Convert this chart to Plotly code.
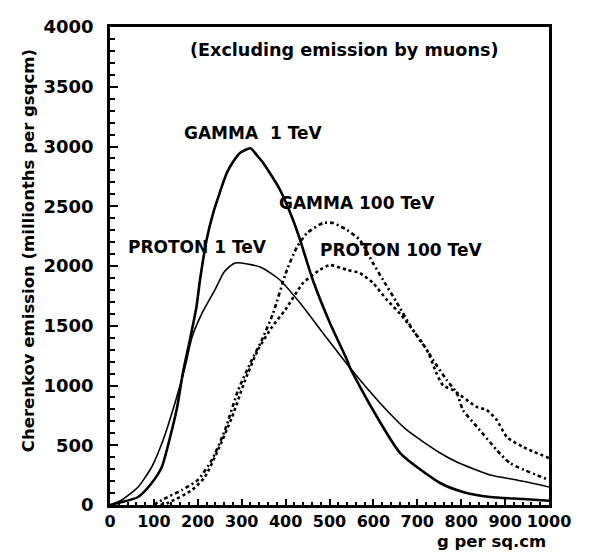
import plotly.graph_objects as go

# Depth (g per sq.cm) and Cherenkov emission (millionths per gsqcm)
gamma1_x = [0, 18, 64, 95, 118, 137, 153, 166, 182, 197, 205, 220, 235, 266, 280, 296, 320, 334, 349, 387, 417, 433, 462, 501, 540, 547, 599, 661, 752, 804, 866, 941, 1000]
gamma1_y = [0, 17, 67, 184, 318, 569, 820, 1105, 1381, 1659, 1883, 2218, 2443, 2778, 2870, 2946, 2985, 2929, 2862, 2640, 2385, 2218, 1883, 1523, 1213, 1146, 795, 435, 184, 109, 67, 50, 35]

proton1_x = [0, 27, 64, 95, 121, 148, 171, 187, 210, 239, 260, 285, 342, 387, 433, 485, 547, 615, 676, 752, 790, 866, 927, 1000]
proton1_y = [0, 42, 151, 318, 544, 854, 1155, 1406, 1607, 1800, 1950, 2025, 1992, 1883, 1690, 1439, 1146, 854, 628, 435, 360, 251, 209, 151]

gamma100_x = [100, 118, 164, 200, 232, 262, 292, 323, 346, 371, 403, 426, 449, 486, 508, 540, 569, 599, 622, 654, 690, 722, 736, 767, 790, 804, 836, 881, 911, 1000]
gamma100_y = [0, 42, 126, 209, 377, 628, 962, 1213, 1381, 1600, 1967, 2159, 2276, 2360, 2360, 2301, 2218, 2025, 1883, 1690, 1464, 1297, 1213, 1046, 937, 795, 653, 460, 351, 209]

proton100_x = [115, 132, 187, 216, 246, 278, 308, 337, 369, 399, 440, 478, 501, 540, 569, 599, 631, 661, 690, 722, 744, 759, 781, 836, 858, 881, 904, 941, 1000]
proton100_y = [0, 17, 126, 234, 460, 736, 1046, 1297, 1490, 1632, 1858, 1967, 2008, 1967, 1941, 1858, 1715, 1600, 1464, 1297, 1100, 1000, 962, 820, 795, 711, 569, 485, 393]

x_ticks = [0, 100, 200, 300, 400, 500, 600, 700, 800, 900, 1000]
y_ticks = [0, 500, 1000, 1500, 2000, 2500, 3000, 3500, 4000]

labels = ["(Excluding emission by muons)", "GAMMA  1 TeV", "GAMMA 100 TeV", "PROTON 1 TeV", "PROTON 100 TeV"]
label_x = [532, 328, 562, 199, 663]
label_y = [3808, 3113, 2527, 2159, 2134]
label_size = [17.6, 17, 17, 17, 17]

FONT = "DejaVu Sans"

fig = go.Figure()
fig.add_trace(go.Scatter(x=gamma1_x, y=gamma1_y, mode="lines", name="GAMMA 1 TeV",
                         line=dict(color="black", width=2.6, shape="spline", smoothing=0.6)))
fig.add_trace(go.Scatter(x=proton1_x, y=proton1_y, mode="lines", name="PROTON 1 TeV",
                         line=dict(color="black", width=1.6, shape="spline", smoothing=0.6)))
fig.add_trace(go.Scatter(x=gamma100_x, y=gamma100_y, mode="lines", name="GAMMA 100 TeV",
                         line=dict(color="black", width=2.6, dash="4px,3px,2px,3px", shape="spline", smoothing=0.6)))
fig.add_trace(go.Scatter(x=proton100_x, y=proton100_y, mode="lines", name="PROTON 100 TeV",
                         line=dict(color="black", width=2.6, dash="3px,3px", shape="spline", smoothing=0.6)))

for t, ax, ay, s in zip(labels, label_x, label_y, label_size):
    fig.add_annotation(x=ax, y=ay, text=t, showarrow=False, xanchor="center", yanchor="middle",
                       font=dict(family=FONT, size=s, color="black", weight="bold"))

fig.add_annotation(xref="paper", yref="paper", x=-0.187, y=0.533, text="Cherenkov emission (millionths per gsqcm)",
                   textangle=-90, showarrow=False, xanchor="center", yanchor="middle",
                   font=dict(family=FONT, size=16.5, color="black", weight="bold"))
fig.add_annotation(xref="paper", yref="paper", x=0.868, y=-0.076, text="g per sq.cm",
                   showarrow=False, xanchor="center", yanchor="middle",
                   font=dict(family=FONT, size=16.5, color="black", weight="bold"))

fig.update_layout(
    width=589, height=560,
    margin=dict(l=110, r=40, t=27, b=55),
    paper_bgcolor="white", plot_bgcolor="white",
    showlegend=False,
)
fig.update_xaxes(range=[0, 1000], tickvals=x_ticks, ticktext=[str(v) for v in x_ticks], tickangle=0,
                 showgrid=False, zeroline=False, showline=True, linecolor="black", linewidth=2.5, mirror=True,
                 ticks="inside", ticklen=6, tickwidth=1.8, tickcolor="black",
                 minor=dict(dtick=20, ticks="inside", ticklen=3, tickwidth=1.5, tickcolor="black", showgrid=False),
                 tickfont=dict(family=FONT, size=16, color="black", weight="bold"), ticklabelstandoff=0)
fig.update_yaxes(range=[0, 4000], tickvals=y_ticks, ticktext=[str(v) for v in y_ticks],
                 showgrid=False, zeroline=False, showline=True, linecolor="black", linewidth=2.5, mirror=True,
                 ticks="inside", ticklen=8, tickwidth=1.8, tickcolor="black",
                 minor=dict(dtick=100, ticks="inside", ticklen=5, tickwidth=1.5, tickcolor="black", showgrid=False),
                 tickfont=dict(family=FONT, size=18, color="black", weight="bold"), ticklabelstandoff=10)

fig.write_html("out.html")
